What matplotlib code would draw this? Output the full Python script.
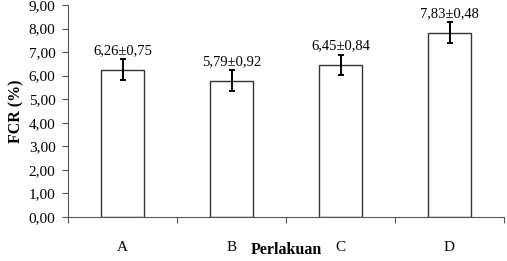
import matplotlib
matplotlib.use("Agg")
import matplotlib.pyplot as plt
import numpy as np

categories = ["A", "B", "C", "D"]
values = [6.26, 5.79, 6.45, 7.83]
errors = [0.45, 0.43, 0.44, 0.43]
labels = ["6,26±0,75", "5,79±0,92", "6,45±0,84", "7,83±0,48"]
yticks = [0, 1, 2, 3, 4, 5, 6, 7, 8, 9]

plt.rcParams['font.family'] = ['Liberation Serif', 'DejaVu Serif']

fig = plt.figure(figsize=(5.07, 2.61), dpi=100)
ax = fig.add_axes([68/507, 1-217/261, (504-68)/507, 212/261])

x = np.arange(len(categories))
ax.bar(x, values, width=0.39, color='white', edgecolor='#333333', linewidth=1.0, zorder=2)
ax.errorbar(x, values, yerr=errors, fmt='none', ecolor='black', elinewidth=1.4,
            capsize=2.5, capthick=1.4, zorder=3)
for xi, v, e, lab in zip(x, values, errors, labels):
    ax.annotate(lab, (xi, v + e), xytext=(0, 1.5), textcoords='offset points',
                ha='center', va='bottom', fontsize=10.5)

ax.set_xlim(-0.5, len(categories) - 0.5)
ax.set_ylim(0, 9)
ax.set_yticks(yticks)
ax.set_yticklabels([f"{t:.2f}".replace('.', ',') for t in yticks], fontsize=11)
ax.set_xticks(np.arange(len(categories) + 1) - 0.5)
ax.set_xticklabels([])
ax.set_xticks(x, minor=True)
ax.set_xticklabels(categories, minor=True, fontsize=11)
ax.tick_params(axis='x', which='minor', length=0, pad=17)
ax.tick_params(axis='x', which='major', length=4, direction='out', color='#555555')
ax.tick_params(axis='y', length=4, direction='out', color='#555555', pad=5)
for s in ['top', 'right']:
    ax.spines[s].set_visible(False)
for s in ['left', 'bottom']:
    ax.spines[s].set_color('#555555')

ax.set_ylabel("FCR (%)", fontsize=11.5, fontweight='bold', labelpad=3)
fig.text(286/507, 1-250/261, "Perlakuan", ha='center', va='center', fontsize=11.5, fontweight='bold')

fig.savefig("out.png", dpi=100)
